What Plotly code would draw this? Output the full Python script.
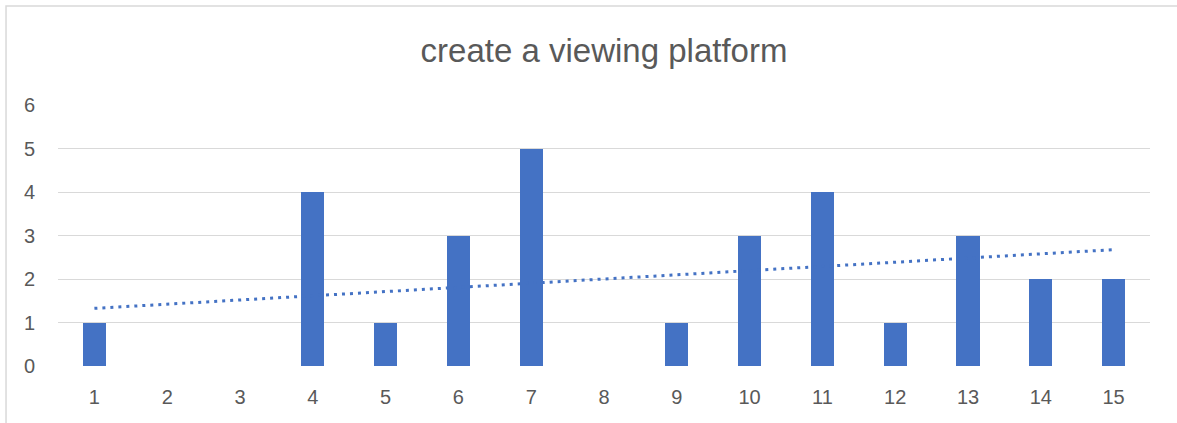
import numpy as np
import plotly.graph_objects as go

categories = list(range(1, 16))
counts = [1, 0, 0, 4, 1, 3, 5, 0, 1, 3, 4, 1, 3, 2, 2]
y_ticks = [0, 1, 2, 3, 4, 5, 6]

blue = '#4472C4'
grey_text = '#595959'

# linear trendline, like Excel's
slope, intercept = np.polyfit(categories, counts, 1)
trend = [slope * x + intercept for x in categories]

fig = go.Figure()
fig.add_trace(go.Scatter(x=categories, y=trend, mode='lines',
                         line=dict(color=blue, width=3, dash='3px,5px'),
                         hoverinfo='skip', showlegend=False))
fig.add_trace(go.Bar(x=categories, y=counts, marker_color=blue,
                     marker_line_width=0,
                     width=0.32, showlegend=False))

fig.update_xaxes(range=[0.5, 15.5], tickvals=categories, showgrid=False,
                 zeroline=False, showline=False, ticks='',
                 ticklabelstandoff=17,
                 tickfont=dict(size=20, color=grey_text))
fig.update_yaxes(range=[0, 6], tickvals=y_ticks, showgrid=True,
                 gridcolor='#d9d9d9', gridwidth=1, zeroline=False,
                 showline=False, ticks='', ticklabelstandoff=22,
                 tickfont=dict(size=20, color=grey_text))

# outer chart border
fig.add_shape(type='rect', xref='paper', yref='paper',
              x0=-0.0476, x1=1.03, y0=-0.23, y1=1.379,
              line=dict(color='#d9d9d9', width=1.5), layer='below')

fig.update_layout(
    title=dict(text='create a viewing platform', x=0.5, xref='paper',
               y=0.88, yref='container', xanchor='center', yanchor='middle',
               font=dict(size=33, color=grey_text)),
    font=dict(family='Liberation Sans, Arial, sans-serif'),
    plot_bgcolor='white', paper_bgcolor='white',
    width=1177, height=423,
    margin=dict(l=58, r=27, t=105, b=57),
    bargap=0,
)

fig.write_html('out.html', config={'displayModeBar': False},
               post_script="document.body.style.margin='0';document.body.style.overflow='hidden';")
